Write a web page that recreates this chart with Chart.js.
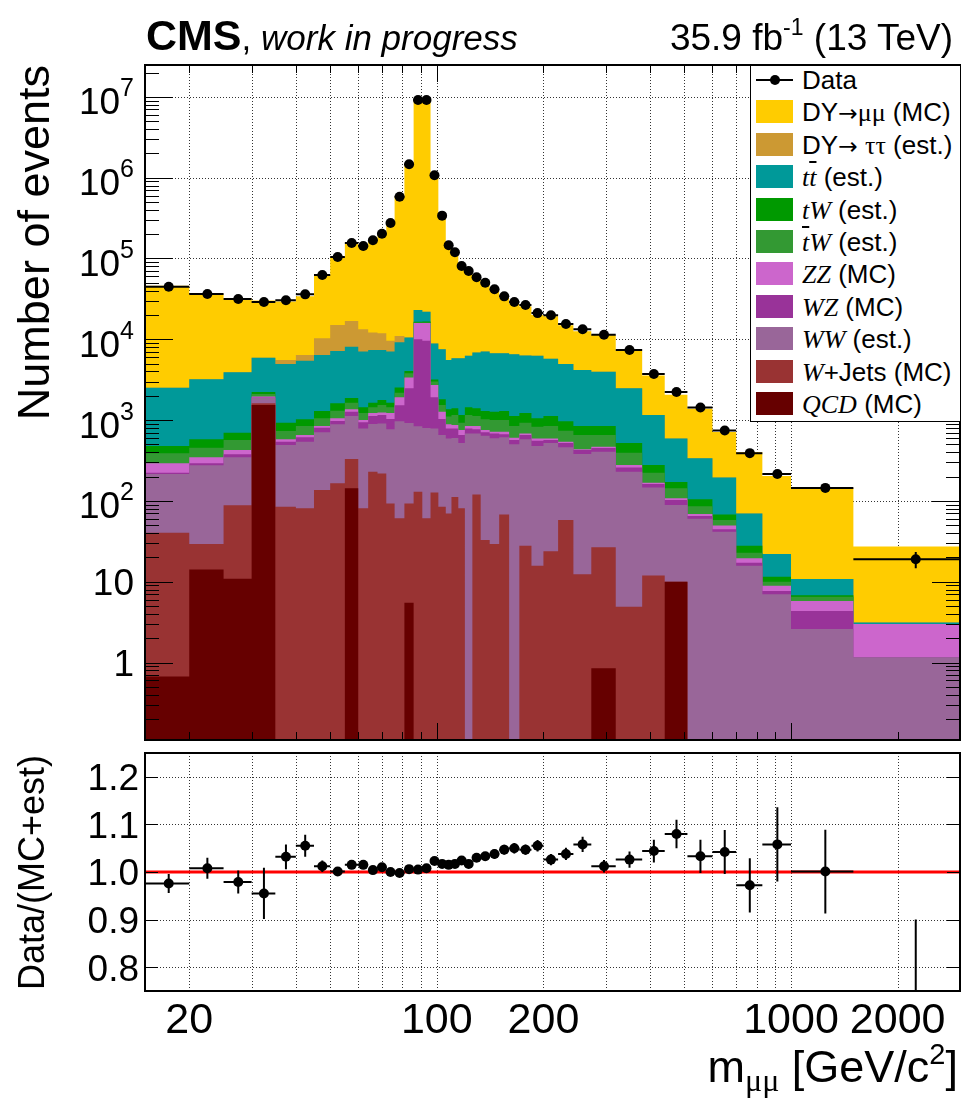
<!DOCTYPE html>
<html>
<head>
<meta charset="utf-8">
<title>Dimuon invariant mass</title>
<script src="https://cdn.jsdelivr.net/npm/chart.js@4.4.1/dist/chart.umd.min.js"></script>
<style>
  html, body { margin: 0; padding: 0; background: #fff; }
  #page { position: relative; width: 966px; height: 1098px; overflow: hidden;
          font-family: "Liberation Sans", Arial, Helvetica, sans-serif; color: #000; }
  #page canvas { position: absolute; left: 0; }
  #main  { top: 0; width: 966px; height: 746px; }
  #ratio { top: 746px; width: 966px; height: 352px; }
  .txt { position: absolute; white-space: nowrap; line-height: 1; }
  .rot { transform: rotate(-90deg); transform-origin: 0 0; text-align: right; }
  .it  { font-family: "Liberation Serif", "Times New Roman", serif; font-style: italic; }
  .gr  { font-family: "Liberation Serif", "Times New Roman", serif; }
  .arr { font-family: "DejaVu Sans", sans-serif; font-size: 0.9em; }
  .bar { text-decoration: overline; }
  #legend { position: absolute; left: 750px; top: 65px; width: 211px; height: 357px;
            box-sizing: border-box; border: 1px solid #000; background: #fff; }
  #legend .row { position: absolute; left: 0; right: 0; height: 26px; }
  #legend .swatch { position: absolute; left: 5px; top: 1px; width: 37px; height: 23px; box-sizing: border-box; }
  #legend .label { position: absolute; left: 51px; top: 0; font-size: 26px; line-height: 26px; white-space: nowrap; }
</style>
</head>
<body>
<div id="page">
  <canvas id="main" width="966" height="746"></canvas>
  <canvas id="ratio" width="966" height="352"></canvas>

  <div class="txt" style="left:146px; top:14px; font-size:43px;"><b>CMS</b><span style="font-size:35px">, <i>work in progress</i></span></div>
  <div class="txt" style="right:13px; top:19px; font-size:37px;">35.9 fb<span style="font-size:23px; position:relative; top:-15px;">-1</span> (13 TeV)</div>

  <div class="txt rot" style="left:11px; top:465px; width:400px; font-size:45px;">Number of events</div>
  <div class="txt rot" style="left:14px; top:1055px; width:300px; font-size:36px;">Data/(MC+est)</div>
  <div class="txt" style="right:8px; top:1044px; font-size:45px;">m<span class="gr" style="font-size:32px; position:relative; top:9px;">μμ</span> [GeV/c<span style="font-size:29px; position:relative; top:-18px;">2</span>]</div>

  <div id="legend"></div>
</div>

<script>
// ---- dimuon mass spectrum, 2016 data vs. stacked backgrounds ----

// bin edges [GeV]
const binEdges = [15, 20, 25, 30, 35, 40, 45, 50, 55, 60,
                  64, 68, 72, 76, 81, 86, 91, 96, 101, 106,
                  110, 115, 120, 126, 133, 141, 150, 160, 171, 185,
                  200, 220, 243, 273, 320, 380, 440, 510, 600, 700,
                  830, 1000, 1500, 3000];

// observed events per bin
const dataCounts = [44800, 36400, 31500, 28950, 30400, 36000, 62500, 104500, 155700, 142900,
                    168000, 202700, 275000, 582000, 1466000, 9160000, 9160000, 1070000, 339000, 145600,
                    119300, 80700, 70000, 58500, 50200, 41600, 34000, 28950, 26600, 21100,
                    19800, 15500, 13300, 11400, 7380, 3720, 2230, 1430, 745, 390,
                    215, 145, 19];

// Data/(MC+est) and its uncertainty
const ratioValues = [0.976, 1.008, 0.979, 0.955, 1.032, 1.055, 1.012, 1.001, 1.015, 1.015,
                     1.004, 1.010, 1.000, 0.998, 1.006, 1.005, 1.008, 1.023, 1.017, 1.015,
                     1.017, 1.024, 1.017, 1.030, 1.033, 1.038, 1.047, 1.050, 1.047, 1.055,
                     1.026, 1.038, 1.058, 1.012, 1.026, 1.044, 1.080, 1.033, 1.042, 0.972,
                     1.058, 1.001, 0.710];
const ratioErrors = [0.020, 0.022, 0.024, 0.054, 0.026, 0.023, 0.012, 0.008, 0.007, 0.007,
                     0.006, 0.006, 0.005, 0.004, 0.003, 0.002, 0.002, 0.003, 0.005, 0.006,
                     0.007, 0.008, 0.008, 0.009, 0.009, 0.010, 0.010, 0.011, 0.011, 0.012,
                     0.012, 0.013, 0.016, 0.013, 0.017, 0.024, 0.030, 0.035, 0.046, 0.057,
                     0.078, 0.088, 0.190];

// background contributions, bottom of the stack first
const qcd = [0.67, 14.2, 10.9, 1540, 0, 0, 0, 0, 143, 0,
             0, 0, 0, 0, 5.5, 0, 0, 0, 0, 0,
             0, 0, 0, 0, 0, 0, 0, 0, 0, 0,
             0, 0, 0, 0.85, 0, 0, 10, 0, 0, 0,
             0, 0, 0];
const wJets = [39.7, 15.1, 77.4, 80, 84.7, 81, 136.5, 165, 187, 81,
               229, 219, 93, 60.9, 87.5, 130, 60.9, 127, 84.7, 70,
               112, 81, 0, 120, 32.8, 29.3, 68, 0, 27.8, 15.8,
               23.9, 58, 12.4, 25.8, 4.9, 11.9, 0, 0, 0, 0,
               0, 0, 0];
const ww = [175, 247, 259, 260, 407, 460, 570, 722, 795, 709,
            665, 692, 679, 905, 827, 708, 739, 663, 569, 524,
            488, 439, 681, 561, 607, 565, 544, 502, 550, 464,
            496, 404, 368, 380, 224, 135, 79, 60, 41.5, 15.8,
            7.0, 2.6, 1.16];
const wz = [8, 16, 30, 30, 49, 72, 99, 88, 146, 150,
            231, 245, 261, 559, 1553, 9172, 8820, 1130, 379, 196,
            190, 134, 109, 91, 66, 87, 58, 65, 76, 75,
            47, 58, 47, 45, 31, 15, 14, 5, 3, 1.4,
            0.7, 1.74, 0];
const zz = [69, 55, 49, 50, 37, 41, 40, 77, 89, 63,
            96, 87, 188, 395, 887, 5880, 6270, 796, 238, 100,
            78, 100, 55, 73, 48, 37, 48, 37, 27, 39,
            27, 21, 7, 18, 18, 6, 5, 4, 5.2, 2.3,
            1.2, 1.43, 1.84];
const tbarW = [96, 109, 141, 140, 155, 191, 207, 255, 281, 218,
               219, 297, 219, 263, 440, 250, 250, 284, 269, 220,
               288, 175, 311, 280, 269, 285, 285, 241, 248, 233,
               251, 197, 220, 184, 118, 55, 35, 17, 8.3, 3.4,
               1.1, 0.73, 0];
const tW = [90, 122, 131, 130, 196, 178, 245, 308, 236, 219,
            201, 234, 201, 347, 250, 340, 490, 190, 270, 250,
            244, 227, 284, 275, 274, 268, 294, 280, 292, 225,
            280, 228, 191, 191, 124, 55, 29, 19, 10, 4.9,
            1.5, 0.3, 0];
const ttbar = [2040, 2622, 3210, 3688, 4017, 4407, 5096, 5545, 6213, 5630,
               5739, 5606, 5429, 6670, 6460, 6560, 5370, 5710, 5710, 4186,
               4440, 4684, 4810, 5470, 5753, 5439, 5413, 5405, 5069, 5198,
               4615, 3964, 3325, 3125, 1953, 878, 422, 232, 127, 42.2,
               10.5, 4.0, 0.14];
const dyTauTau = [0, 0, 0, 0, 600, 963, 3897, 7870, 8740, 6230,
                  4720, 4500, 2550, 1790, 0, 0, 0, 0, 0, 0,
                  0, 0, 0, 0, 0, 0, 0, 0, 0, 0,
                  0, 0, 0, 0, 0, 0, 0, 0, 0, 0,
                  0, 0, 0];
const dyMuMu = [43380, 32910, 28270, 24390, 23910, 27730, 51470, 89370, 136570, 127490,
                155230, 188820, 265380, 572180, 1446750, 9091360, 9065300, 1037000, 325810, 137900,
                111460, 72970, 62580, 49930, 41550, 33370, 25760, 21040, 19120, 13750,
                13560, 10000, 8400, 7295, 4720, 2407, 1471, 1047, 520, 331,
                181, 134, 24.1];

// axis ticks
const xGridValues = [20, 30, 40, 50, 60, 70, 80, 90, 100, 200, 300, 400, 500, 600, 700, 800, 900, 1000, 2000];
const xTickLabels = [20, 100, 200, 1000, 2000];
const yExponents = [0, 1, 2, 3, 4, 5, 6, 7];
const ratioTicks = [0.8, 0.9, 1.0, 1.1, 1.2];
const ratioReference = 1.0;

const ARROW = '<span class="arr">\u2192</span>';
const components = [
  { label: '<span class="it">QCD</span> (MC)',  values: qcd,      color: '#660000' },
  { label: '<span class="it">W</span>+Jets (MC)', values: wJets,  color: '#993333' },
  { label: '<span class="it">WW</span> (est.)', values: ww,       color: '#996699' },
  { label: '<span class="it">WZ</span> (MC)',   values: wz,       color: '#993399' },
  { label: '<span class="it">ZZ</span> (MC)',   values: zz,       color: '#cc66cc' },
  { label: '<span class="it"><span class="bar">t</span>W</span> (est.)', values: tbarW, color: '#339933' },
  { label: '<span class="it">tW</span> (est.)', values: tW,       color: '#009900' },
  { label: '<span class="it">t<span class="bar">t</span></span> (est.)', values: ttbar, color: '#009999' },
  { label: 'DY' + ARROW + ' <span class="gr">\u03c4\u03c4</span> (est.)', values: dyTauTau, color: '#cc9933' },
  { label: 'DY' + ARROW + '<span class="gr">\u03bc\u03bc</span> (MC)',    values: dyMuMu,   color: '#ffcc00' },
];

const FONT = '"Liberation Sans", Arial, Helvetica, sans-serif';
const Y_MIN = 0.11, Y_MAX = 2.48e7;
const X_MIN = binEdges[0], X_MAX = binEdges[binEdges.length - 1];
const LOG_FLOOR = 1e-4;   // keeps empty stack layers below the visible range

const crisp = v => Math.round(v) + 0.5;
const isDecade = v => Math.abs(Math.log10(v) - Math.round(Math.log10(v))) < 1e-9;
const binCentre = i => (binEdges[i] + binEdges[i + 1]) / 2;

// cumulative step outlines; THStack-like: each layer filled down to the axis
let running = dataCounts.map(() => 0);
const stackSets = components.map(c => {
  running = running.map((r, i) => r + c.values[i]);
  const pts = [];
  running.forEach((v, i) => {
    const y = Math.max(v, LOG_FLOOR);
    pts.push({ x: binEdges[i], y }, { x: binEdges[i + 1], y });
  });
  return {
    data: pts, fill: 'start', backgroundColor: c.color, borderColor: c.color,
    borderWidth: 0, pointRadius: 0, tension: 0,
  };
});

const dataSet = {
  data: dataCounts.map((n, i) => ({ x: binCentre(i), y: n })),
  showLine: false, pointRadius: 5, pointHoverRadius: 5,
  pointBackgroundColor: '#000', pointBorderColor: '#000', pointBorderWidth: 0,
};

function clipArea(ctx, a) {
  ctx.beginPath();
  ctx.rect(a.left, a.top, a.right - a.left, a.bottom - a.top);
  ctx.clip();
}

function dottedGrid(ctx, a, xs, ys) {
  ctx.save();
  ctx.strokeStyle = '#333';
  ctx.lineWidth = 1;
  ctx.setLineDash([1, 2]);
  ctx.beginPath();
  xs.forEach(px => { ctx.moveTo(crisp(px), a.top); ctx.lineTo(crisp(px), a.bottom); });
  ys.forEach(py => { ctx.moveTo(a.left, crisp(py)); ctx.lineTo(a.right, crisp(py)); });
  ctx.stroke();
  ctx.restore();
}

function errorBars(ctx, a, x, y, values, lowOf, highOf) {
  ctx.save();
  clipArea(ctx, a);
  ctx.strokeStyle = '#000';
  ctx.lineWidth = 2;
  ctx.beginPath();
  values.forEach((v, i) => {
    const py = y.getPixelForValue(v);
    ctx.moveTo(x.getPixelForValue(binEdges[i]), py);
    ctx.lineTo(x.getPixelForValue(binEdges[i + 1]), py);
    const px = x.getPixelForValue(binCentre(i));
    ctx.moveTo(px, y.getPixelForValue(highOf(v, i)));
    ctx.lineTo(px, y.getPixelForValue(lowOf(v, i)));
  });
  ctx.stroke();
  ctx.restore();
}

const mainDecor = {
  id: 'mainDecor',
  beforeDatasetsDraw(chart) {
    const { ctx, chartArea: a, scales: { x, y } } = chart;
    dottedGrid(ctx, a, xGridValues.map(v => x.getPixelForValue(v)),
               yExponents.map(e => y.getPixelForValue(10 ** e)));
  },
  afterDatasetsDraw(chart) {
    const { ctx, chartArea: a, scales: { x, y } } = chart;
    // Poisson uncertainty on the observed counts
    errorBars(ctx, a, x, y, dataCounts,
              n => Math.max(n - Math.sqrt(n), LOG_FLOOR), n => n + Math.sqrt(n));

    ctx.save();
    ctx.strokeStyle = '#000';
    ctx.lineWidth = 1;
    ctx.beginPath();
    xGridValues.forEach(v => {
      const px = crisp(x.getPixelForValue(v));
      const len = isDecade(v) ? 17 : 8;
      ctx.moveTo(px, a.bottom); ctx.lineTo(px, a.bottom - len);
      ctx.moveTo(px, a.top);    ctx.lineTo(px, a.top + len);
    });
    for (let e = -1; e <= 7; e++) {
      for (let k = 1; k <= 9; k++) {
        const v = k * 10 ** e;
        if (v < Y_MIN || v > Y_MAX) continue;
        const py = crisp(y.getPixelForValue(v));
        const len = k === 1 ? 28 : 14;
        ctx.moveTo(a.left, py);  ctx.lineTo(a.left + len, py);
        ctx.moveTo(a.right, py); ctx.lineTo(a.right - len, py);
      }
    }
    ctx.stroke();

    ctx.lineWidth = 2;
    ctx.strokeRect(a.left, a.top, a.right - a.left, a.bottom - a.top);

    // 1, 10, 10^2 ... labels
    ctx.fillStyle = '#000';
    ctx.textAlign = 'right';
    ctx.textBaseline = 'alphabetic';
    const right = 134;
    yExponents.forEach(e => {
      const py = y.getPixelForValue(10 ** e);
      if (e < 2) {
        ctx.font = '37px ' + FONT;
        ctx.fillText(e === 0 ? '1' : '10', right, py + 13.5);
      } else {
        ctx.font = '25px ' + FONT;
        const sup = String(e);
        ctx.fillText(sup, right, py - 0.5);
        const w = ctx.measureText(sup).width;
        ctx.font = '37px ' + FONT;
        ctx.fillText('10', right - w, py + 17.5);
      }
    });
    ctx.restore();
  },
};

const ratioDecor = {
  id: 'ratioDecor',
  beforeDatasetsDraw(chart) {
    const { ctx, chartArea: a, scales: { x, y } } = chart;
    dottedGrid(ctx, a, xGridValues.map(v => x.getPixelForValue(v)),
               ratioTicks.map(v => y.getPixelForValue(v)));
  },
  afterDatasetsDraw(chart) {
    const { ctx, chartArea: a, scales: { x, y } } = chart;
    errorBars(ctx, a, x, y, ratioValues,
              (r, i) => r - ratioErrors[i], (r, i) => r + ratioErrors[i]);

    ctx.save();
    ctx.strokeStyle = '#000';
    ctx.lineWidth = 1;
    ctx.beginPath();
    ratioTicks.forEach(v => {
      const py = crisp(y.getPixelForValue(v));
      ctx.moveTo(a.left, py);  ctx.lineTo(a.left + 13, py);
      ctx.moveTo(a.right, py); ctx.lineTo(a.right - 13, py);
    });
    ctx.stroke();
    ctx.lineWidth = 2;
    ctx.strokeRect(a.left, a.top, a.right - a.left, a.bottom - a.top);

    ctx.fillStyle = '#000';
    ctx.textBaseline = 'alphabetic';
    ctx.font = '37px ' + FONT;
    ctx.textAlign = 'right';
    ratioTicks.forEach(v => ctx.fillText(v.toFixed(1), 139, y.getPixelForValue(v) + 13.3));

    ctx.font = '43px ' + FONT;
    ctx.textAlign = 'center';
    xTickLabels.forEach(v => ctx.fillText(String(v), x.getPixelForValue(v), a.bottom + 42));
    ctx.restore();
  },
};

const common = {
  responsive: false,
  animation: false,
  devicePixelRatio: 1,
  events: [],
  plugins: { legend: { display: false }, tooltip: { enabled: false } },
};

new Chart(document.getElementById('main'), {
  type: 'line',
  data: { datasets: [dataSet, ...stackSets] },
  options: {
    ...common,
    layout: { padding: { left: 145, right: 6, top: 65, bottom: 6 } },
    scales: {
      x: { type: 'logarithmic', min: X_MIN, max: X_MAX, display: false },
      y: { type: 'logarithmic', min: Y_MIN, max: Y_MAX, display: false },
    },
  },
  plugins: [mainDecor],
});

new Chart(document.getElementById('ratio'), {
  type: 'line',
  data: {
    datasets: [
      {
        data: ratioValues.map((r, i) => ({ x: binCentre(i), y: r })),
        showLine: false, pointRadius: 5, pointHoverRadius: 5,
        pointBackgroundColor: '#000', pointBorderColor: '#000', pointBorderWidth: 0,
      },
      {
        data: [{ x: X_MIN, y: ratioReference }, { x: X_MAX, y: ratioReference }],
        borderColor: '#ff0000', borderWidth: 3, pointRadius: 0, fill: false,
      },
    ],
  },
  options: {
    ...common,
    layout: { padding: { left: 145, right: 6, top: 7, bottom: 107 } },
    scales: {
      x: { type: 'logarithmic', min: X_MIN, max: X_MAX, display: false },
      y: { type: 'linear', min: 0.75, max: 1.25, display: false },
    },
  },
  plugins: [ratioDecor],
});

// legend box, top entry first
const legend = document.getElementById('legend');
const rowCentre = i => 14 + i * 32.4;
const rows = ['<div class="row" style="top:' + (rowCentre(0) - 13) + 'px">' +
  '<div style="position:absolute;left:5px;top:12px;width:37px;height:2px;background:#000"></div>' +
  '<div style="position:absolute;left:18.5px;top:8px;width:10px;height:10px;border-radius:50%;background:#000"></div>' +
  '<div class="label">Data</div></div>'];
components.slice().reverse().forEach((c, k) => {
  rows.push('<div class="row" style="top:' + (rowCentre(k + 1) - 13) + 'px">' +
    '<div class="swatch" style="background:' + c.color + ';border:1px solid ' + c.color + '"></div>' +
    '<div class="label">' + c.label + '</div></div>');
});
legend.innerHTML = rows.join('');
</script>
</body>
</html>
